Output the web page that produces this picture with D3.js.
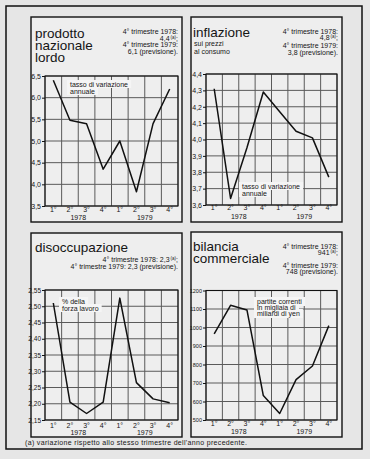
<!DOCTYPE html>
<html lang="it">
<head>
    <meta charset="UTF-8">
    <title>Congiuntura 1978-1979</title>
    <style>
        body {
            margin: 0;
            background-color: rgb(230, 230, 230);
        }
        svg text {
            font-family: "Liberation Sans", Arial, sans-serif;
            fill: #151515;
        }
        .grid {
            stroke: #5a5a5a;
            stroke-width: 1;
        }
        .series {
            fill: none;
            stroke: #111;
            stroke-width: 1.5;
            stroke-linejoin: round;
        }
        .title {
            font-size: 13.5px;
        }
        .note, .legend, .tick text, .year {
            font-size: 7px;
        }
    </style>
</head>
<body>
    <svg width="370" height="459"></svg>
    <script src="https://cdn.jsdelivr.net/npm/d3@7"></script>
    <script>
        // data
        const quarterLabels = ["1°", "2°", "3°", "4°", "1°", "2°", "3°", "4°"];
        const yearLabels = ["1978", "1979"];

        const pnlValues = [6.4, 5.48, 5.4, 4.35, 5.0, 3.83, 5.4, 6.2];
        const pnlTicks = [3.5, 4.0, 4.5, 5.0, 5.5, 6.0, 6.5];

        const inflValues = [4.31, 3.64, 3.95, 4.29, 4.17, 4.05, 4.01, 3.77];
        const inflTicks = [3.6, 3.7, 3.8, 3.9, 4.0, 4.1, 4.2, 4.3, 4.4];

        const disocValues = [2.51, 2.205, 2.17, 2.205, 2.525, 2.265, 2.215, 2.203];
        const disocTicks = [2.15, 2.20, 2.25, 2.30, 2.35, 2.40, 2.45, 2.50, 2.55];

        const bilValues = [965, 1120, 1095, 632, 535, 718, 792, 1010];
        const bilTicks = [500, 600, 700, 800, 900, 1000, 1100, 1200];

        const svg = d3.select("svg");

        const comma = f => d => d3.format(f)(d).replace(".", ",");

        // outer frame
        svg.append("rect")
            .attr("x", 6).attr("y", 6)
            .attr("width", 356).attr("height", 443)
            .attr("fill", "none")
            .attr("stroke", "#111")
            .attr("stroke-width", 1.5);

        const panels = [
            {
                box: {x: 31, y: 17, w: 151, h: 205},
                plot: {x: 45, y: 76, w: 133, h: 130},
                values: pnlValues, ticks: pnlTicks, fmt: comma(".1f"),
                title: [{t: "prodotto", x: 35, y: 38}, {t: "nazionale", x: 35, y: 50}, {t: "lordo", x: 35, y: 62}],
                notes: [
                    {t: "4° trimestre 1978:", y: 34},
                    {t: "4,4", sup: "(a)", after: ";", y: 41},
                    {t: "4° trimestre 1979:", y: 47},
                    {t: "6,1 (previsione).", y: 54}
                ],
                legend: {x: 70, y: [87, 94], lines: ["tasso di variazione", "annuale"]},
                labelY: 213, yearY: 220, tickFont: 7
            },
            {
                box: {x: 191, y: 17, w: 151, h: 205},
                plot: {x: 206, y: 74, w: 131, h: 131},
                values: inflValues, ticks: inflTicks, fmt: comma(".1f"),
                title: [{t: "inflazione", x: 193, y: 37}],
                sub: [{t: "sui prezzi", x: 194, y: 46}, {t: "al consumo", x: 194, y: 54}],
                notes: [
                    {t: "4° trimestre 1978:", y: 34},
                    {t: "4,8", sup: "(a)", after: ";", y: 40},
                    {t: "4° trimestre 1979:", y: 48},
                    {t: "3,8 (previsione).", y: 55}
                ],
                legend: {x: 242, y: [189, 196], lines: ["tasso di variazione", "annuale"]},
                labelY: 211, yearY: 219, tickFont: 7
            },
            {
                box: {x: 31, y: 233, w: 151, h: 204},
                plot: {x: 45, y: 290, w: 133, h: 130},
                values: disocValues, ticks: disocTicks, fmt: comma(".2f"),
                title: [{t: "disoccupazione", x: 35, y: 252}],
                notes: [
                    {t: "4° trimestre 1978: 2,3", sup: "(a)", after: ";", y: 262},
                    {t: "4° trimestre 1979: 2,3 (previsione).", y: 269}
                ],
                legend: {x: 62, y: [304, 311], lines: ["% della", "forza lavoro"]},
                labelY: 429, yearY: 435, tickFont: 6.5
            },
            {
                box: {x: 191, y: 232, w: 151, h: 205},
                plot: {x: 206, y: 290.5, w: 131, h: 129.5},
                values: bilValues, ticks: bilTicks, fmt: d3.format("d"),
                title: [{t: "bilancia", x: 193, y: 251}, {t: "commerciale", x: 193, y: 263}],
                notes: [
                    {t: "4° trimestre 1978:", y: 249},
                    {t: "941", sup: "(a)", after: ";", y: 255},
                    {t: "4° trimestre 1979:", y: 268},
                    {t: "748 (previsione).", y: 274}
                ],
                legend: {x: 257, y: [304, 310, 316], lines: ["partite correnti", "in migliaia di", "miliardi di yen"]},
                labelY: 427, yearY: 434, tickFont: 5.5
            }
        ];

        panels.forEach(drawPanel);

        function drawPanel(p) {
            const g = svg.append("g");
            const right = p.box.x + p.box.w - 4;

            g.append("rect")
                .attr("x", p.box.x).attr("y", p.box.y)
                .attr("width", p.box.w).attr("height", p.box.h)
                .attr("fill", "#eeeeee")
                .attr("stroke", "#111")
                .attr("stroke-width", 1.4);

            const x = d3.scaleBand()
                .domain(d3.range(quarterLabels.length))
                .range([p.plot.x, p.plot.x + p.plot.w]);

            const y = d3.scaleLinear()
                .domain(d3.extent(p.ticks))
                .range([p.plot.y + p.plot.h, p.plot.y]);

            // grid
            g.selectAll(".hgrid")
                .data(p.ticks)
                .join("line")
                .attr("class", "grid")
                .attr("x1", p.plot.x).attr("x2", p.plot.x + p.plot.w)
                .attr("y1", d => y(d)).attr("y2", d => y(d));

            g.selectAll(".vgrid")
                .data(d3.range(quarterLabels.length + 1))
                .join("line")
                .attr("class", "grid")
                .attr("x1", i => p.plot.x + i * x.step())
                .attr("x2", i => p.plot.x + i * x.step())
                .attr("y1", p.plot.y).attr("y2", p.plot.y + p.plot.h);

            g.append("rect")
                .attr("x", p.plot.x).attr("y", p.plot.y)
                .attr("width", p.plot.w).attr("height", p.plot.h)
                .attr("fill", "none")
                .attr("stroke", "#111")
                .attr("stroke-width", 1.1);

            // y axis
            const yAxis = g.append("g")
                .attr("transform", `translate(${p.plot.x},0)`)
                .call(d3.axisLeft(y).tickValues(p.ticks).tickFormat(p.fmt).tickSize(3).tickPadding(1));
            yAxis.select(".domain").remove();
            yAxis.selectAll("line").attr("stroke", "#111");
            yAxis.selectAll("text").style("font-size", p.tickFont + "px");

            // x axis labels
            const xAxis = g.append("g")
                .attr("transform", `translate(0,${p.labelY - 6})`)
                .call(d3.axisBottom(x).tickFormat(i => quarterLabels[i]).tickSize(0).tickPadding(0));
            xAxis.select(".domain").remove();

            g.selectAll(".year")
                .data(yearLabels)
                .join("text")
                .attr("class", "year")
                .attr("text-anchor", "middle")
                .attr("x", (d, i) => p.plot.x + p.plot.w * (i * 2 + 1) / 4)
                .attr("y", p.yearY)
                .text(d => d);

            // legend text with paper-coloured patch behind
            const leg = g.append("g");
            p.legend.lines.forEach((t, i) => {
                const txt = leg.append("text")
                    .attr("class", "legend")
                    .attr("x", p.legend.x)
                    .attr("y", p.legend.y[i])
                    .text(t);
                const b = txt.node().getBBox();
                leg.insert("rect", "text")
                    .attr("x", b.x - 3).attr("y", b.y - 1)
                    .attr("width", b.width + 6).attr("height", b.height + 1)
                    .attr("fill", "#f5f5f5");
            });

            // series
            const line = d3.line()
                .x((d, i) => x(i) + x.bandwidth() / 2)
                .y(d => y(d));

            g.append("path")
                .datum(p.values)
                .attr("class", "series")
                .attr("d", line);

            // titles
            g.selectAll(".title")
                .data(p.title)
                .join("text")
                .attr("class", "title")
                .attr("x", d => d.x).attr("y", d => d.y)
                .text(d => d.t);

            if (p.sub) {
                g.selectAll(".sub")
                    .data(p.sub)
                    .join("text")
                    .attr("class", "note")
                    .attr("x", d => d.x).attr("y", d => d.y)
                    .text(d => d.t);
            }

            p.notes.forEach(n => {
                const t = g.append("text")
                    .attr("class", "note")
                    .attr("text-anchor", "end")
                    .attr("x", right)
                    .attr("y", n.y);
                t.append("tspan").text(n.t);
                if (n.sup) {
                    t.append("tspan").attr("dx", 1).attr("dy", -2.5).style("font-size", "4.5px").text(n.sup);
                    t.append("tspan").attr("dy", 2.5).text(n.after);
                }
            });
        }

        svg.append("text")
            .attr("class", "note")
            .attr("x", 25)
            .attr("y", 445)
            .attr("textLength", 222)
            .attr("lengthAdjust", "spacing")
            .text("(a) variazione rispetto allo stesso trimestre dell'anno precedente.");
    </script>
</body>
</html>
